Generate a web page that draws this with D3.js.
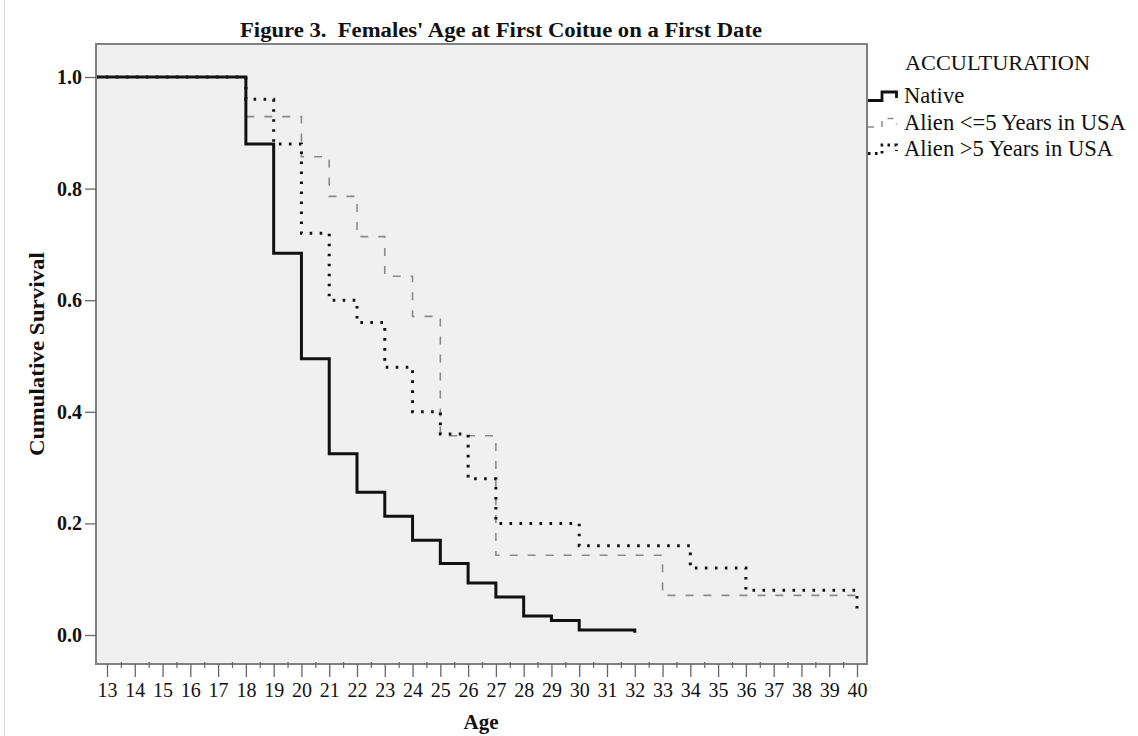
<!DOCTYPE html>
<html>
<head>
<meta charset="utf-8">
<script src="https://cdn.jsdelivr.net/npm/d3@7"></script>
<style>
  body { margin: 0; background: #fff; }
  text { font-family: "Liberation Serif", "Times New Roman", serif; fill: #111; }
</style>
</head>
<body>
<div id="chart"></div>
<script>
// survival steps (age, cumulative survival)
var nativeAge  = [0, 18, 19, 20, 21, 22, 23, 24, 25, 26, 27, 28, 29, 30, 32];
var nativeSurv = [1.0, 0.88, 0.684, 0.495, 0.325, 0.256, 0.213, 0.17, 0.128, 0.093, 0.068, 0.034, 0.026, 0.009, 0.004];

var alienShortAge  = [0, 18, 20, 21, 22, 23, 24, 25, 27, 33, 40];
var alienShortSurv = [1.0, 0.929, 0.857, 0.786, 0.714, 0.643, 0.571, 0.357, 0.143, 0.071, 0.071];

var alienLongAge  = [0, 18, 19, 20, 21, 22, 23, 24, 25, 26, 27, 30, 34, 36, 40];
var alienLongSurv = [1.0, 0.96, 0.88, 0.72, 0.60, 0.56, 0.48, 0.40, 0.36, 0.28, 0.20, 0.16, 0.12, 0.08, 0.04];

var ageTicks = d3.range(13, 41);
var survTicks = [0, 0.2, 0.4, 0.6, 0.8, 1.0];
var seriesNames = ["Native", "Alien <=5 Years in USA", "Alien >5 Years in USA"];

// plot frame
var W = 1138, H = 736;
var frame = {left: 96, top: 44, right: 867, bottom: 664};

var svg = d3.select("#chart")
  .append("svg")
    .attr("width", W)
    .attr("height", H);

// faint image border on the left
svg.append("line")
  .attr("x1", 4.5).attr("x2", 4.5)
  .attr("y1", 0).attr("y2", H)
  .attr("stroke", "#d8d8d8");

var x = d3.scaleLinear().domain([13, 40]).range([107, 857]);
var y = d3.scaleLinear().domain([0, 1]).range([635, 77]);

svg.append("rect")
  .attr("x", frame.left)
  .attr("y", frame.top)
  .attr("width", frame.right - frame.left)
  .attr("height", frame.bottom - frame.top)
  .attr("fill", "#f0f0f0")
  .attr("stroke", "#808080")
  .attr("stroke-width", 2);

svg.append("clipPath")
  .attr("id", "clip")
  .append("rect")
    .attr("x", frame.left + 1)
    .attr("y", frame.top + 1)
    .attr("width", frame.right - frame.left - 2)
    .attr("height", frame.bottom - frame.top - 2);

// title
svg.append("text")
  .attr("x", 501)
  .attr("y", 37)
  .attr("text-anchor", "middle")
  .attr("textLength", 522)
  .attr("lengthAdjust", "spacingAndGlyphs")
  .style("white-space", "pre")
  .style("font-size", "20px")
  .style("font-weight", "bold")
  .text("Figure 3.  Females' Age at First Coitue on a First Date");

// y axis
var yAxis = svg.append("g")
  .attr("transform", "translate(" + frame.left + ",0)")
  .call(d3.axisLeft(y).tickValues(survTicks).tickFormat(d3.format(".1f")).tickSize(11).tickSizeOuter(0).tickPadding(3));
yAxis.select(".domain").remove();
yAxis.selectAll("line").attr("stroke", "#666").attr("stroke-width", 1.3);
yAxis.selectAll("text")
  .style("font-family", "'Liberation Serif'")
  .style("font-size", "20px")
  .style("font-weight", "bold")
  .attr("fill", "#222");

// x axis, major + minor ticks
var xAxis = svg.append("g")
  .attr("transform", "translate(0," + frame.bottom + ")")
  .call(d3.axisBottom(x).tickValues(ageTicks).tickFormat(d3.format("d")).tickSize(13).tickSizeOuter(0).tickPadding(6));
xAxis.select(".domain").remove();
xAxis.selectAll("line").attr("stroke", "#666").attr("stroke-width", 1.3);
xAxis.selectAll("text")
  .style("font-family", "'Liberation Serif'")
  .style("font-size", "20px")
  .attr("fill", "#222");

var xMinor = svg.append("g")
  .attr("transform", "translate(0," + (frame.bottom - 2) + ")")
  .call(d3.axisBottom(x).tickValues(d3.range(13.5, 40, 1)).tickFormat("").tickSize(6).tickSizeOuter(0));
xMinor.select(".domain").remove();
xMinor.selectAll("line").attr("stroke", "#666").attr("stroke-width", 1.2);

// axis titles
svg.append("text")
  .attr("x", 481)
  .attr("y", 729)
  .attr("text-anchor", "middle")
  .style("font-size", "21px")
  .style("font-weight", "bold")
  .text("Age");

svg.append("text")
  .attr("transform", "translate(44,354) rotate(-90)")
  .attr("text-anchor", "middle")
  .attr("textLength", 204)
  .attr("lengthAdjust", "spacingAndGlyphs")
  .style("font-size", "21px")
  .style("font-weight", "bold")
  .text("Cumulative Survival");

// survival curves
var line = d3.line()
  .x(function(d) { return x(d[0]); })
  .y(function(d) { return y(d[1]); })
  .curve(d3.curveStepAfter);

var styles = [
  {stroke: "#111", width: 3, dash: null},
  {stroke: "#8a8a8a", width: 1.6, dash: "8,10"},
  {stroke: "#111", width: 3, dash: "2.6,7.4"}
];

var curves = svg.append("g").attr("clip-path", "url(#clip)");

curves.append("path")
  .datum(d3.zip(alienShortAge, alienShortSurv))
  .attr("d", line)
  .attr("fill", "none")
  .attr("stroke", styles[1].stroke)
  .attr("stroke-width", styles[1].width)
  .attr("stroke-dasharray", styles[1].dash);

curves.append("path")
  .datum(d3.zip(alienLongAge, alienLongSurv))
  .attr("d", line)
  .attr("fill", "none")
  .attr("stroke", styles[2].stroke)
  .attr("stroke-width", styles[2].width)
  .attr("stroke-dasharray", styles[2].dash);

curves.append("path")
  .datum(d3.zip(nativeAge, nativeSurv))
  .attr("d", line)
  .attr("fill", "none")
  .attr("stroke", styles[0].stroke)
  .attr("stroke-width", styles[0].width)
  .attr("stroke-linejoin", "miter");

// legend
svg.append("text")
  .attr("x", 905)
  .attr("y", 70)
  .attr("textLength", 185)
  .attr("lengthAdjust", "spacingAndGlyphs")
  .style("font-size", "21px")
  .text("ACCULTURATION");

var legend = svg.selectAll(".legend")
  .data(seriesNames)
  .enter()
  .append("g")
    .attr("class", "legend")
    .attr("transform", function(d, i) { return "translate(0," + (i * 26.5) + ")"; });

legend.append("path")
  .attr("d", "M868,100.5H882V92H896.5V98")
  .attr("fill", "none")
  .attr("stroke", function(d, i) { return styles[i].stroke; })
  .attr("stroke-width", function(d, i) { return i === 1 ? 1.5 : 2.8; })
  .attr("stroke-dasharray", function(d, i) { return i === 0 ? null : (i === 1 ? "6,8" : "2.5,4.5"); });

legend.append("text")
  .attr("x", 904)
  .attr("y", 103)
  .style("font-size", "22.6px")
  .text(function(d) { return d; });
</script>
</body>
</html>
